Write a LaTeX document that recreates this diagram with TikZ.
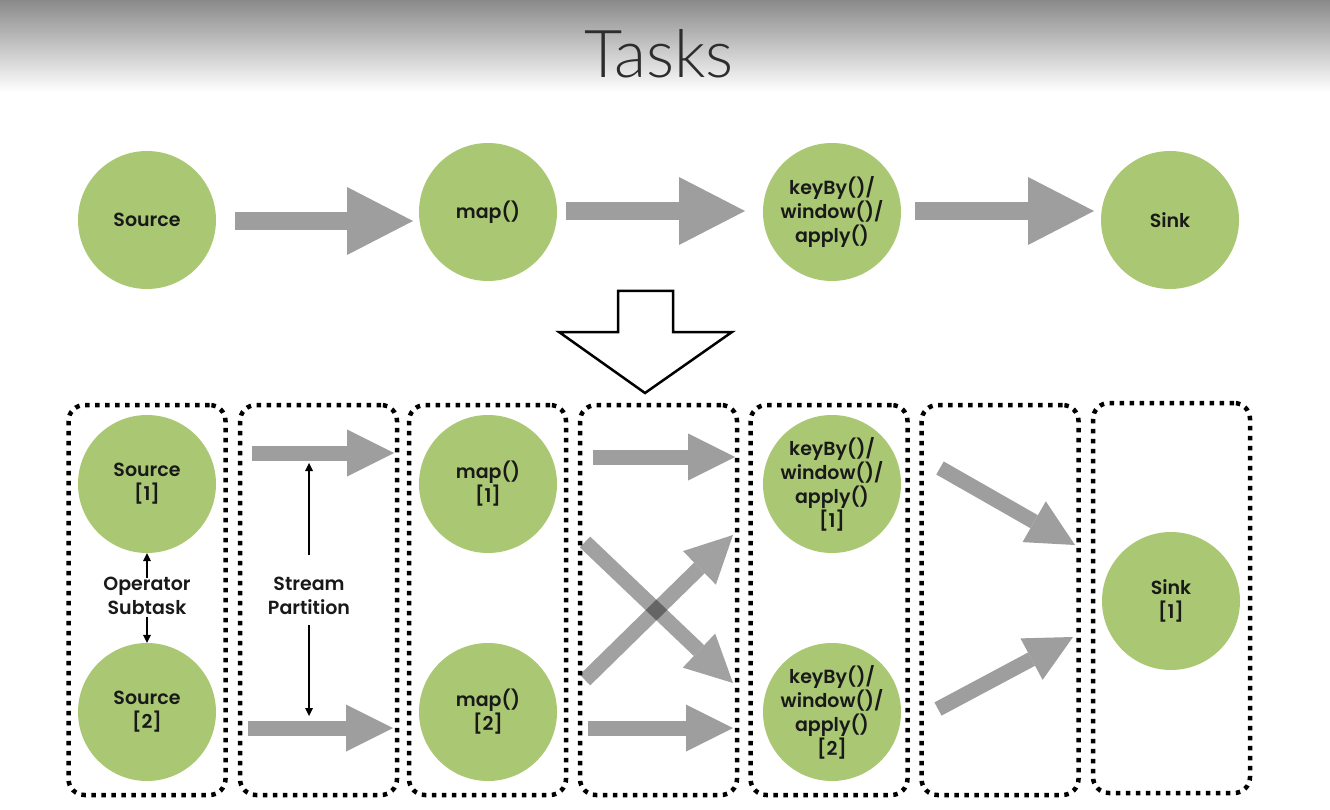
\documentclass[tikz,border=0pt]{standalone}
\usepackage{fontspec}
\IfFontExistsTF{Poppins SemiBold}{\setmainfont{Poppins SemiBold}[BoldFont={Poppins SemiBold}]}{\setmainfont{Poppins}}
\IfFontExistsTF{Lato Light}{\newfontfamily\titlefont{Lato Light}}{\newfontfamily\titlefont{Lato}}
\usetikzlibrary{arrows.meta}
\definecolor{opgreen}{RGB}{170,200,115}
\definecolor{arrgray}{RGB}{158,158,158}
\definecolor{txtc}{RGB}{25,25,25}
\definecolor{titlec}{RGB}{45,45,45}
\definecolor{bartop}{RGB}{138,138,138}
\begin{document}
\begin{tikzpicture}[x=1pt,y=-1pt,
  opc/.style={circle, fill=opgreen, draw=none, minimum size=138pt, inner sep=0pt},
  optxt/.style={font=\fontsize{19}{24}\selectfont\bfseries, text=txtc, align=center, inner sep=0pt},
  fatL/.style={draw=arrgray, line width=18pt, -{Triangle[length=66pt,width=68pt,line width=0pt]}},
  fatS/.style={draw=arrgray, line width=15pt, -{Triangle[length=47pt,width=47pt,line width=0pt]}},
  fatT/.style={draw=black, line width=15pt, -{Triangle[length=47pt,width=47pt,line width=0pt]}},
  tbox/.style={draw=black, line width=4.5pt, dash pattern=on 4.5pt off 5.5pt, rounded corners=16pt, minimum width=157pt, minimum height=390pt, inner sep=0pt},
  thinarr/.style={draw=black, line width=1.6pt, -{Triangle[length=8pt,width=8pt,line width=0pt]}},
  hollow/.style={draw=black, line width=2.5pt, fill=white, line join=miter}
]
\useasboundingbox (0,0) rectangle (1330,810);
\fill[white] (0,0) rectangle (1330,810);
\shade[top color=bartop, bottom color=white] (0,0) rectangle (1330,92);
\node[font=\titlefont\fontsize{66}{66}\selectfont, text=titlec, anchor=base, inner sep=0pt] (title) at (659,78) {Tasks};

% top row
\node[opc] (src) at (147,220) {};
\node[optxt] at (src) {Source};
\node[opc] (map) at (488,212) {};
\node[optxt] at (map) {map()};
\node[opc] (key) at (832,212) {};
\node[optxt] at (key) {keyBy()/\\window()/\\apply()};
\node[opc] (snk) at (1170,220) {};
\node[optxt] at (snk) {Sink};

\coordinate (a1s) at (235,221); \coordinate (a1e) at (413,221);
\coordinate (a2s) at (566,211); \coordinate (a2e) at (745,211);
\coordinate (a3s) at (915,211); \coordinate (a3e) at (1094,211);
\draw[fatL] (a1s) -- (a1e);
\draw[fatL] (a2s) -- (a2e);
\draw[fatL] (a3s) -- (a3e);

% hollow arrow
\draw[hollow] (618,291) -- (673,291) -- (673,332) -- (732,332) -- (645,393) -- (559,332) -- (618,332) -- cycle;

% boxes
\node[tbox] (b1) at (147,600) {};
\node[tbox] (b2) at (318.5,600) {};
\node[tbox] (b3) at (487.5,600) {};
\node[tbox] (b4) at (658.5,600) {};
\node[tbox] (b5) at (829,600) {};
\node[tbox] (b6) at (1000,600) {};
\node[tbox] (b7) at (1171.5,598) {};

% bottom circles
\node[opc] (s1) at (147,484) {};
\node[optxt] at (s1) {Source\\{}[1]};
\node[opc] (s2) at (147,712) {};
\node[optxt] at (s2) {Source\\{}[2]};
\node[opc] (m1) at (488,484) {};
\node[optxt] at (m1) {map()\\{}[1]};
\node[opc] (m2) at (488,712) {};
\node[optxt] at (m2) {map()\\{}[2]};
\node[opc] (k1) at (832,484) {};
\node[optxt] at (k1) {keyBy()/\\window()/\\apply()\\{}[1]};
\node[opc] (k2) at (832,712) {};
\node[optxt] at (k2) {keyBy()/\\window()/\\apply()\\{}[2]};
\node[opc] (sk) at (1171,601) {};
\node[optxt] at (sk) {Sink\\{}[1]};

% labels
\node[optxt] (opl) at (147,596) {Operator\\Subtask};
\node[optxt] (spl) at (309,596) {Stream\\Partition};

% thin arrows
\coordinate (o1) at (147,578); \coordinate (o2) at (147,617);
\draw[thinarr] (o1) -- (s1.south);
\draw[thinarr] (o2) -- (s2.north);
\coordinate (p1s) at (309,555); \coordinate (p1e) at (309,463);
\coordinate (p2s) at (309,625); \coordinate (p2e) at (309,716);
\draw[thinarr] (p1s) -- (p1e);
\draw[thinarr] (p2s) -- (p2e);

% box 2 arrows
\coordinate (c1s) at (252,453); \coordinate (c1e) at (394,453);
\coordinate (c2s) at (248,728); \coordinate (c2e) at (393,728);
\draw[fatS] (c1s) -- (c1e);
\draw[fatS] (c2s) -- (c2e);

% box 4 arrows
\coordinate (d1s) at (593,457); \coordinate (d1e) at (735,457);
\coordinate (d2s) at (588,728); \coordinate (d2e) at (733,728);
\draw[fatS] (d1s) -- (d1e);
\draw[fatS] (d2s) -- (d2e);
\coordinate (x1s) at (585,542); \coordinate (x1e) at (733,683);
\coordinate (x2s) at (585,680); \coordinate (x2e) at (733,535);
\begin{scope}[transparency group, opacity=0.37]
\draw[fatT] (x1s) -- (x1e);
\end{scope}
\begin{scope}[transparency group, opacity=0.37]
\draw[fatT] (x2s) -- (x2e);
\end{scope}

% box 6 arrows
\coordinate (e1s) at (940,468); \coordinate (e1e) at (1075,545);
\coordinate (e2s) at (938,709); \coordinate (e2e) at (1073,637);
\draw[fatS] (e1s) -- (e1e);
\draw[fatS] (e2s) -- (e2e);
\end{tikzpicture}
\end{document}
